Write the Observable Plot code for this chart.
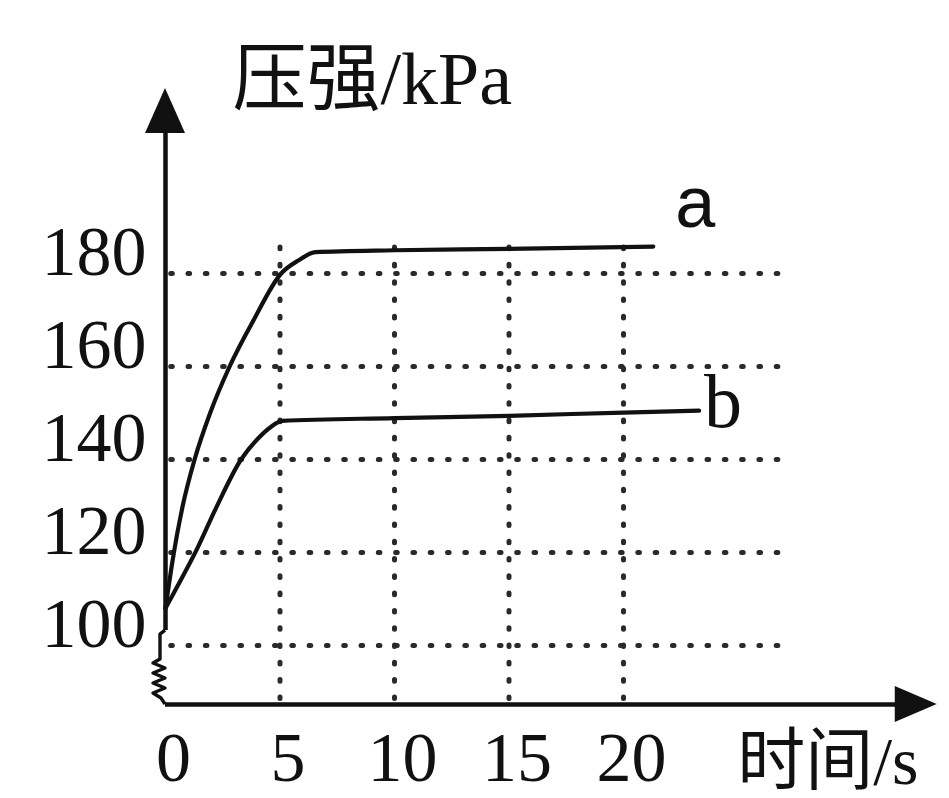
<!DOCTYPE html>
<html><head><meta charset="utf-8">
<script src="https://cdn.jsdelivr.net/npm/d3@7"></script>
<script src="https://cdn.jsdelivr.net/npm/@observablehq/plot@0.6"></script>
<style>html,body{margin:0;padding:0;background:#fff;}</style>
</head><body><div id="chart"></div>
<script>
// ---- data ----
const timeA = [0, 0.3, 0.75, 1.27, 1.95, 2.8, 3.85, 5.05, 5.8, 6.55, 10, 15, 21.3];
const pressureA = [108, 118, 130, 140, 150, 160, 170, 180, 182.8, 184.6, 185, 185.3, 185.8];
const timeB = [0, 0.35, 1.4, 2.2, 3.3, 4.0, 4.6, 5.1, 10, 15, 20, 23.3];
const pressureB = [108, 111.2, 121, 129.5, 140, 144.3, 147, 148.3, 148.9, 149.4, 150.1, 150.5];
const xTicks = [0, 5, 10, 15, 20];
const yTicks = [100, 120, 140, 160, 180];
const xGridTicks = [5, 10, 15, 20];
const yTitle = "压强/kPa";
const xTitle = "时间/s";

const lineData = [
  ...timeA.map((t, i) => ({series: "a", t, p: pressureA[i]})),
  ...timeB.map((t, i) => ({series: "b", t, p: pressureB[i]}))
];

// extents of axes & grid (in data units)
const GRID_X_END = 27.1, GRID_Y_BOTTOM = 88.5, GRID_Y_TOP = 188.6;
const X_AXIS_LEVEL = 87.3, Y_AXIS_TOP = 219.8, X_AXIS_END = 33.7, BREAK_TOP = 103.2;

const serif = "'Liberation Serif', 'Times New Roman', 'Noto Sans CJK SC', serif";
const ink = "#111";
const gridInk = "#2a2a2a";

function decorations(index, scales) {
  const {x, y} = scales;
  const g = d3.create("svg:g");
  const x0 = x(0), yc = y(X_AXIS_LEVEL);
  // axis break zigzag
  const zz = [[0,-74],[-5,-70],[-5,-45],[-12,-41],[0,-36],[-12,-31],[0,-26],[-12,-21],[0,-16],[-12,-11],[-4,-6],[0,0]];
  g.append("path")
    .attr("d", d3.line()(zz.map(([dx, dy]) => [x0 + dx, yc + dy])))
    .attr("fill", "none").attr("stroke", ink).attr("stroke-width", 3.4)
    .attr("stroke-linejoin", "round");
  // y arrow head
  const ty = y(Y_AXIS_TOP);
  g.append("path").attr("d", `M${x0},${ty}L${x0 - 20},${ty + 45}L${x0 + 20},${ty + 45}Z`).attr("fill", ink);
  // x arrow head
  const tx = x(X_AXIS_END);
  g.append("path").attr("d", `M${tx},${yc}L${tx - 42},${yc - 18}L${tx - 42},${yc + 18}Z`).attr("fill", ink);
  return g.node();
}

const gridStyle = {stroke: gridInk, strokeWidth: 5, strokeLinecap: "round", strokeDasharray: "1.6,15.7"};

const plot = Plot.plot({
  width: 949,
  height: 798,
  marginLeft: 165,
  marginRight: 326,
  marginTop: 273,
  marginBottom: 153,
  x: {domain: [0, 20], axis: null},
  y: {domain: [100, 180], axis: null},
  style: {background: "white", overflow: "visible"},
  marks: [
    // dotted grid
    Plot.ruleY(yTicks, {y: d => d, x1: 0.25, x2: GRID_X_END, ...gridStyle}),
    Plot.ruleX(xGridTicks, {x: d => d, y1: GRID_Y_BOTTOM, y2: GRID_Y_TOP, ...gridStyle}),
    // axes
    Plot.ruleX([0], {y1: BREAK_TOP, y2: Y_AXIS_TOP - 9, stroke: ink, strokeWidth: 4.5}),
    Plot.ruleY([X_AXIS_LEVEL], {x1: 0, x2: X_AXIS_END - 1.5, stroke: ink, strokeWidth: 4.5}),
    decorations,
    // curves
    Plot.line(lineData, {x: "t", y: "p", z: "series", curve: "monotone-x", stroke: ink, strokeWidth: 4.2}),
    // series labels
    Plot.text(lineData.filter(d => d.series === "a"), Plot.selectLast({x: "t", y: "p", text: "series", dx: 42, dy: -43, fontSize: 72, fontFamily: "'Liberation Sans', Arial, sans-serif", fill: ink})),
    Plot.text(lineData.filter(d => d.series === "b"), Plot.selectLast({x: "t", y: "p", text: "series", dx: 24, dy: -8, fontSize: 76, fontFamily: serif, fill: ink})),
    // tick labels
    Plot.text(yTicks, {x: 0, y: d => d, text: d => String(d), textAnchor: "end", dx: -19, dy: -21, fontSize: 70, fontFamily: serif, fill: ink}),
    Plot.text(xTicks, {x: d => d, y: X_AXIS_LEVEL, text: d => String(d), dx: 8, dy: 54, fontSize: 70, fontFamily: serif, fill: ink}),
    // axis titles
    Plot.text([yTitle], {x: 0, y: Y_AXIS_TOP, text: d => d, textAnchor: "start", dx: 67, dy: -8, fontSize: 74, fontFamily: serif, fill: ink}),
    Plot.text([xTitle], {x: X_AXIS_END, y: X_AXIS_LEVEL, text: d => d, textAnchor: "start", dx: -200, dy: 58, fontSize: 68, fontFamily: serif, fill: ink})
  ]
});
document.getElementById("chart").append(plot);
</script>
</body></html>
